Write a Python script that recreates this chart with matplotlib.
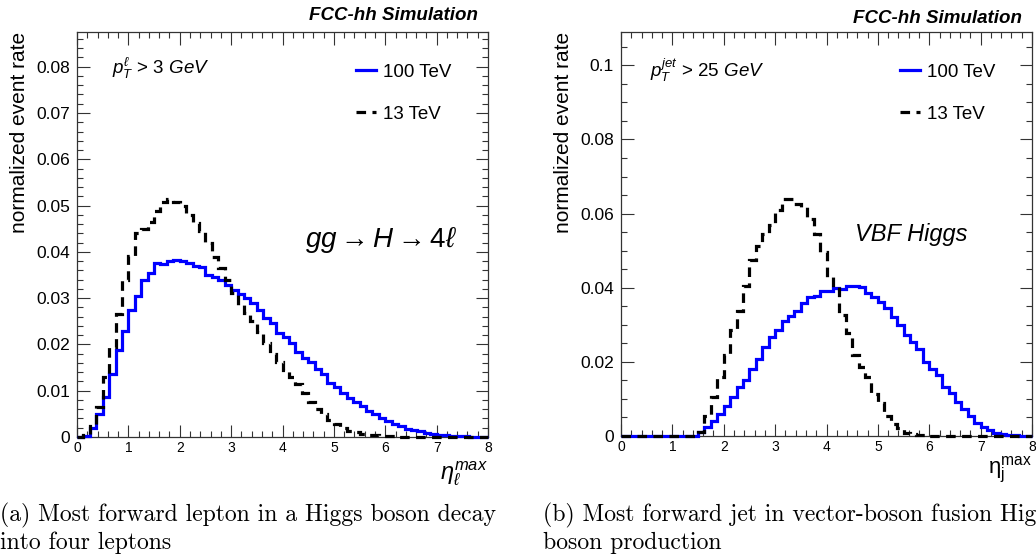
import numpy as np
import matplotlib
matplotlib.use("Agg")
import matplotlib.pyplot as plt
from matplotlib.lines import Line2D
from matplotlib.ticker import MultipleLocator, FuncFormatter

plt.rcParams['font.family'] = ['Liberation Sans', 'DejaVu Sans']
plt.rcParams['mathtext.fontset'] = 'custom'
plt.rcParams['mathtext.rm'] = 'Liberation Sans'
plt.rcParams['mathtext.it'] = 'Liberation Sans:italic'
plt.rcParams['mathtext.bf'] = 'Liberation Sans:bold'

# ── histogram data, 64 bins of width 0.125 in eta ──
eta_edges = np.linspace(0, 8, 65)

lep_100 = [0.0000, 0.0003, 0.0020, 0.0050, 0.0087, 0.0137, 0.0187, 0.0228,
           0.0275, 0.0304, 0.0339, 0.0355, 0.0375, 0.0373, 0.0380, 0.0382,
           0.0380, 0.0375, 0.0370, 0.0368, 0.0350, 0.0346, 0.0340, 0.0328,
           0.0318, 0.0310, 0.0300, 0.0290, 0.0275, 0.0258, 0.0246, 0.0225,
           0.0216, 0.0203, 0.0183, 0.0171, 0.0163, 0.0146, 0.0136, 0.0117,
           0.0109, 0.0095, 0.0084, 0.0076, 0.0066, 0.0056, 0.0049, 0.0041,
           0.0035, 0.0029, 0.0023, 0.0018, 0.0015, 0.0012, 0.0009, 0.0007,
           0.0005, 0.0004, 0.0003, 0.0002, 0.0002, 0.0001, 0.0001, 0.0001]

lep_13 = [0.0001, 0.0004, 0.0024, 0.0065, 0.0129, 0.0195, 0.0266, 0.0340,
          0.0392, 0.0441, 0.0449, 0.0465, 0.0488, 0.0507, 0.0514, 0.0508,
          0.0500, 0.0480, 0.0463, 0.0445, 0.0420, 0.0389, 0.0365, 0.0340,
          0.0311, 0.0286, 0.0268, 0.0250, 0.0227, 0.0203, 0.0180, 0.0163,
          0.0145, 0.0130, 0.0115, 0.0094, 0.0076, 0.0060, 0.0050, 0.0036,
          0.0028, 0.0019, 0.0014, 0.0010, 0.0007, 0.0005, 0.0004, 0.0003,
          0.0002, 0.0002, 0.0001, 0.0001, 0.0001, 0.0001, 0.0001, 0.0000,
          0.0000, 0.0000, 0.0000, 0.0000, 0.0000, 0.0000, 0.0000, 0.0000]

jet_100 = [0.0, 0.0, 0.0, 0.0, 0.0, 0.0, 0.0, 0.0, 0.0, 0.0, 0.0, 0.0,
           0.0010, 0.0023, 0.0041, 0.0060,
           0.0081, 0.0104, 0.0131, 0.0152, 0.0182, 0.0208, 0.0239, 0.0268,
           0.0287, 0.0309, 0.0325, 0.0338, 0.0359, 0.0376, 0.0379, 0.0390,
           0.0390, 0.0399, 0.0397, 0.0404, 0.0405, 0.0403, 0.0385, 0.0374,
           0.0361, 0.0345, 0.0322, 0.0300, 0.0273, 0.0253, 0.0235, 0.0200,
           0.0180, 0.0164, 0.0133, 0.0115, 0.0092, 0.0074, 0.0054, 0.0036,
           0.0024, 0.0015, 0.0009, 0.0006, 0.0004, 0.0002, 0.0001, 0.0001]

jet_13 = [0.0, 0.0, 0.0, 0.0, 0.0, 0.0, 0.0, 0.0, 0.0, 0.0, 0.0, 0.0,
          0.0010, 0.0054, 0.0104, 0.0158,
          0.0218, 0.0286, 0.0338, 0.0406, 0.0476, 0.0513, 0.0545, 0.0570,
          0.0610, 0.0640, 0.0640, 0.0625, 0.0618, 0.0585, 0.0545, 0.0497,
          0.0430, 0.0403, 0.0327, 0.0277, 0.0218, 0.0185, 0.0160, 0.0112,
          0.0088, 0.0054, 0.0033, 0.0022, 0.0009, 0.0005, 0.0003, 0.0002,
          0.0001, 0.0001, 0.0001, 0.0000, 0.0000, 0.0000, 0.0000, 0.0000,
          0.0000, 0.0000, 0.0000, 0.0000, 0.0000, 0.0000, 0.0000, 0.0000]

BLUE = '#0000ff'
AXC = '#333333'
DASH = (3, 2)


def style_axes(ax, ymax, ymajor, yminor):
    ax.set_xlim(0, 8)
    ax.set_ylim(0, ymax)
    ax.xaxis.set_major_locator(MultipleLocator(1))
    ax.xaxis.set_minor_locator(MultipleLocator(0.2))
    ax.yaxis.set_major_locator(MultipleLocator(ymajor))
    ax.yaxis.set_minor_locator(MultipleLocator(yminor))
    ax.yaxis.set_major_formatter(FuncFormatter(lambda v, p: f'{v:g}'))
    ax.tick_params(which='both', direction='in', top=True, right=True,
                   color=AXC, width=0.8)
    ax.tick_params(which='major', length=9)
    ax.tick_params(which='minor', length=4.5)
    ax.tick_params(axis='x', labelsize=10, pad=3)
    ax.tick_params(axis='y', labelsize=12.5, pad=5)
    for s in ax.spines.values():
        s.set_color(AXC)
        s.set_linewidth(0.9)
    ax.set_ylabel('normalized event rate', fontsize=15, loc='top', labelpad=5)


def draw(ax, v100, v13):
    ax.stairs(v100, eta_edges, baseline=None, color=BLUE, lw=2.3,
              clip_on=False, zorder=3)
    ax.stairs(v13, eta_edges, baseline=None, color='black', lw=2.3,
              linestyle=(0, DASH), clip_on=False, zorder=4)
    handles = [Line2D([], [], color=BLUE, lw=2.3),
               Line2D([], [], color='black', lw=2.3, linestyle=(0, DASH))]
    ax.legend(handles, ['100 TeV', '13 TeV'], loc='upper left',
              bbox_to_anchor=(0.66, 0.94), frameon=False, fontsize=13.5,
              handlelength=1.1, handletextpad=0.35, labelspacing=1.32,
              borderaxespad=0)


fig = plt.figure(figsize=(10.36, 5.58), dpi=100)
ax1 = fig.add_axes([77/1036, 1 - 437/558, 411/1036, 405/558])
ax2 = fig.add_axes([621/1036, 1 - 436/558, 411/1036, 404/558])

# ── (a) leptons ──
style_axes(ax1, 0.0875, 0.01, 0.002)
draw(ax1, lep_100, lep_13)
ax1.text(0.085, 0.911, r'$p_T^{\ell}$ > 3 $GeV$', transform=ax1.transAxes,
         fontsize=13.5, va='center')
ax1.text(0.555, 0.487, r'$gg \rightarrow H \rightarrow 4\ell$',
         transform=ax1.transAxes, fontsize=20, va='center')
ax1.text(0.975, 1.04, 'FCC-hh Simulation', transform=ax1.transAxes,
         fontsize=13.5, fontweight='bold', fontstyle='italic', ha='right',
         va='center')
ax1.text(1.0, -0.055, r'$\eta_{\ell}^{max}$', transform=ax1.transAxes,
         fontsize=17, ha='right', va='top')

# ── (b) jets ──
style_axes(ax2, 0.109, 0.02, 0.005)
draw(ax2, jet_100, jet_13)
ax2.text(0.07, 0.906, r'$p_T^{jet}$ > 25 $GeV$', transform=ax2.transAxes,
         fontsize=13.5, va='center')
ax2.text(0.57, 0.499, 'VBF Higgs', transform=ax2.transAxes, fontsize=17,
         fontstyle='italic', va='center')
ax2.text(0.976, 1.033, 'FCC-hh Simulation', transform=ax2.transAxes,
         fontsize=13.5, fontweight='bold', fontstyle='italic', ha='right',
         va='center')
ax2.text(1.0, -0.045, r'$\mathrm{\eta_{j}^{max}}$', transform=ax2.transAxes,
         fontsize=16, ha='right', va='top')

# ── captions ──
cap = dict(family=['cmr10', 'DejaVu Serif'], fontsize=17.1, va='baseline')
fig.text(0.0, 1 - 521/558, '(a) Most forward lepton in a Higgs boson decay', **cap)
fig.text(0.0, 1 - 549/558, 'into four leptons', **cap)
fig.text(543/1036, 1 - 521/558,
         '(b) Most forward jet in vector-boson fusion Higgs', **cap)
fig.text(543/1036, 1 - 549/558, 'boson production', **cap)

fig.savefig('out.png', dpi=100)
